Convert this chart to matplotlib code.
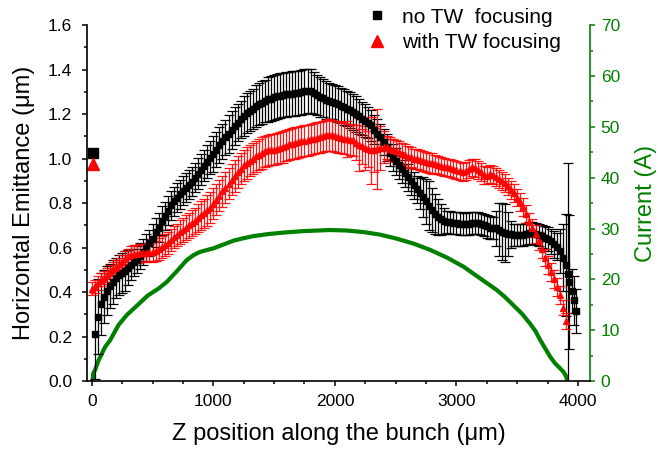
import numpy as np
import matplotlib
matplotlib.use("Agg")
import matplotlib.pyplot as plt
from matplotlib.lines import Line2D
from matplotlib.ticker import MultipleLocator, FormatStrFormatter

plt.rcParams['font.family'] = ['Liberation Sans', 'DejaVu Sans']

# ---- data ----
# no TW focusing (black squares): z position (um), emittance (um), error (um)
z_black = list(range(25, 3900, 25)) + [3898, 3915, 3929, 3948, 3964, 3981]
emit_black = [
    0.21, 0.29, 0.345, 0.38, 0.405, 0.428, 0.445, 0.463,
    0.475, 0.485, 0.495, 0.51, 0.523, 0.533, 0.545, 0.562,
    0.58, 0.60, 0.62, 0.64, 0.668, 0.69, 0.72, 0.742,
    0.765, 0.79, 0.808, 0.825, 0.84, 0.855, 0.87, 0.882,
    0.896, 0.914, 0.932, 0.95, 0.968, 0.986, 1.004, 1.02,
    1.04, 1.06, 1.077, 1.095, 1.11, 1.13, 1.148, 1.162,
    1.176, 1.19, 1.203, 1.215, 1.225, 1.235, 1.244, 1.252,
    1.26, 1.266, 1.27, 1.275, 1.28, 1.283, 1.286, 1.289,
    1.29, 1.292, 1.293, 1.296, 1.298, 1.302, 1.305, 1.305,
    1.295, 1.285, 1.278, 1.272, 1.265, 1.26, 1.256, 1.25,
    1.245, 1.238, 1.232, 1.225, 1.218, 1.21, 1.20, 1.19,
    1.18, 1.17, 1.162, 1.15, 1.13, 1.112, 1.095, 1.075,
    1.05, 1.026, 1.005, 0.988, 0.97, 0.952, 0.934, 0.916,
    0.898, 0.88, 0.862, 0.844, 0.826, 0.808, 0.788, 0.77,
    0.752, 0.738, 0.728, 0.72, 0.716, 0.713, 0.712, 0.71,
    0.708, 0.706, 0.707, 0.708, 0.71, 0.712, 0.71, 0.705,
    0.70, 0.695, 0.69, 0.688, 0.686, 0.68, 0.672, 0.666,
    0.662, 0.66, 0.658, 0.656, 0.655, 0.656, 0.66, 0.664,
    0.665, 0.662, 0.656, 0.65, 0.645, 0.638, 0.628, 0.615,
    0.604, 0.585, 0.555,
    0.521, 0.479, 0.446, 0.404, 0.364, 0.315,
]
err_black = [
    0.20, 0.17, 0.14, 0.12, 0.11, 0.10, 0.10, 0.09,
    0.09, 0.09, 0.09, 0.08, 0.07, 0.06, 0.06, 0.06,
    0.06, 0.06, 0.06, 0.065, 0.065, 0.065, 0.065, 0.065,
    0.065, 0.065, 0.065, 0.065, 0.065, 0.065, 0.065, 0.065,
    0.065, 0.065, 0.07, 0.07, 0.07, 0.075, 0.075, 0.08,
    0.08, 0.08, 0.08, 0.08, 0.085, 0.085, 0.085, 0.085,
    0.085, 0.09, 0.09, 0.09, 0.09, 0.095, 0.095, 0.095,
    0.095, 0.10, 0.10, 0.10, 0.10, 0.10, 0.10, 0.10,
    0.10, 0.10, 0.10, 0.10, 0.10, 0.10, 0.10, 0.10,
    0.095, 0.09, 0.09, 0.085, 0.085, 0.08, 0.08, 0.08,
    0.08, 0.08, 0.08, 0.08, 0.08, 0.08, 0.08, 0.08,
    0.075, 0.075, 0.07, 0.07, 0.065, 0.065, 0.06, 0.06,
    0.06, 0.06, 0.06, 0.06, 0.06, 0.06, 0.06, 0.06,
    0.06, 0.06, 0.06, 0.07, 0.09, 0.10, 0.11, 0.10,
    0.09, 0.08, 0.07, 0.06, 0.05, 0.05, 0.05, 0.05,
    0.05, 0.05, 0.05, 0.05, 0.05, 0.05, 0.05, 0.05,
    0.05, 0.05, 0.05, 0.05, 0.08, 0.12, 0.13, 0.13,
    0.10, 0.06, 0.05, 0.05, 0.05, 0.05, 0.05, 0.05,
    0.05, 0.05, 0.05, 0.05, 0.05, 0.055, 0.055, 0.06,
    0.06, 0.10, 0.15,
    0.23, 0.50, 0.30, 0.10, 0.11, 0.10,
]

# with TW focusing (red triangles)
z_red = [5] + list(range(25, 3925, 25))
emit_red = [
    0.415,
    0.425, 0.44, 0.455, 0.465, 0.476, 0.49, 0.503, 0.514,
    0.524, 0.535, 0.548, 0.56, 0.566, 0.57, 0.572, 0.574,
    0.575, 0.577, 0.578, 0.58, 0.585, 0.593, 0.602, 0.612,
    0.622, 0.634, 0.646, 0.658, 0.67, 0.68, 0.69, 0.70,
    0.71, 0.72, 0.733, 0.745, 0.755, 0.767, 0.78, 0.798,
    0.815, 0.833, 0.853, 0.87, 0.888, 0.905, 0.922, 0.94,
    0.955, 0.97, 0.98, 0.99, 1.0, 1.01, 1.018, 1.025,
    1.032, 1.038, 1.04, 1.04, 1.044, 1.048, 1.052, 1.058,
    1.064, 1.066, 1.07, 1.074, 1.077, 1.08, 1.083, 1.086,
    1.09, 1.093, 1.096, 1.10, 1.104, 1.106, 1.104, 1.10,
    1.097, 1.094, 1.09, 1.088, 1.085, 1.082, 1.072, 1.062,
    1.055, 1.048, 1.042, 1.038, 1.038, 1.042, 1.048, 1.052,
    1.05, 1.045, 1.04, 1.035, 1.03, 1.022, 1.014, 1.008,
    1.005, 1.0, 0.996, 0.993, 0.99, 0.986, 0.982, 0.978,
    0.976, 0.972, 0.968, 0.964, 0.96, 0.956, 0.952, 0.948,
    0.944, 0.94, 0.945, 0.955, 0.96, 0.958, 0.95, 0.938,
    0.928, 0.924, 0.93, 0.928, 0.918, 0.91, 0.90, 0.89,
    0.875, 0.86, 0.845, 0.825, 0.805, 0.783, 0.75, 0.715,
    0.688, 0.66, 0.628, 0.594, 0.555, 0.52, 0.49, 0.458,
    0.424, 0.385, 0.33, 0.27,
]
err_red = [
    0.03,
    0.03, 0.03, 0.03, 0.03, 0.03, 0.03, 0.03, 0.03,
    0.03, 0.03, 0.035, 0.035, 0.04, 0.04, 0.04, 0.04,
    0.04, 0.04, 0.04, 0.045, 0.045, 0.05, 0.05, 0.05,
    0.05, 0.05, 0.05, 0.05, 0.055, 0.055, 0.055, 0.055,
    0.06, 0.06, 0.065, 0.065, 0.065, 0.07, 0.07, 0.07,
    0.07, 0.07, 0.07, 0.07, 0.07, 0.07, 0.07, 0.07,
    0.07, 0.07, 0.07, 0.07, 0.07, 0.07, 0.07, 0.07,
    0.07, 0.07, 0.07, 0.07, 0.07, 0.07, 0.07, 0.07,
    0.07, 0.07, 0.07, 0.07, 0.07, 0.07, 0.07, 0.07,
    0.07, 0.07, 0.07, 0.07, 0.07, 0.07, 0.07, 0.07,
    0.07, 0.07, 0.07, 0.08, 0.07, 0.07, 0.08, 0.12,
    0.08, 0.10, 0.08, 0.15, 0.10, 0.18, 0.10, 0.07,
    0.05, 0.05, 0.05, 0.05, 0.05, 0.05, 0.05, 0.05,
    0.045, 0.045, 0.045, 0.045, 0.045, 0.045, 0.045, 0.045,
    0.04, 0.04, 0.04, 0.04, 0.04, 0.04, 0.04, 0.04,
    0.04, 0.04, 0.04, 0.04, 0.04, 0.04, 0.04, 0.04,
    0.04, 0.04, 0.04, 0.04, 0.04, 0.04, 0.04, 0.04,
    0.04, 0.04, 0.04, 0.04, 0.04, 0.04, 0.04, 0.04,
    0.04, 0.04, 0.04, 0.04, 0.04, 0.04, 0.04, 0.04,
    0.04, 0.04, 0.035, 0.035,
]

# single points at z = 0 (whole-bunch values)
z_single = [10]
emit_single_black = [1.025]
emit_single_red = [0.975]

# current profile (green, right axis)
z_cur = [8, 12, 28, 55, 110, 151, 220, 289, 380, 460, 550, 618, 700, 782,
         840, 891, 1001, 1100, 1165, 1250, 1330, 1450, 1577, 1750, 1960,
         2100, 2234, 2370, 2509, 2650, 2783, 2920, 3057, 3194, 3331, 3400,
         3468, 3540, 3605, 3650, 3688, 3730, 3770, 3810, 3852, 3880, 3900, 3912]
current = [0.0, 1.5, 2.2, 4.0, 6.7, 8.0, 11.0, 13.0, 15.0, 16.8, 18.2, 19.5,
           21.6, 23.8, 24.8, 25.4, 26.1, 27.0, 27.6, 28.1, 28.5, 28.9, 29.2,
           29.5, 29.7, 29.6, 29.3, 28.8, 28.0, 27.0, 25.8, 24.3, 22.5, 20.2,
           17.9, 16.5, 14.9, 13.2, 11.3, 9.8, 8.1, 6.4, 4.8, 3.5, 2.5, 1.8,
           1.0, 0.0]

green = '#008000'

fig = plt.figure(figsize=(6.58, 4.49), dpi=100)
ax = fig.add_subplot(111)
fig.subplots_adjust(left=0.132, right=0.897, bottom=0.1514, top=0.944)
ax2 = ax.twinx()

# green current line underneath the emittance data
ax2.plot(z_cur, current, color=green, lw=3.0, solid_capstyle='butt')
ax.set_zorder(ax2.get_zorder() + 1)
ax.patch.set_visible(False)

ax.errorbar(z_black, emit_black, yerr=err_black, fmt='s', color='black',
            ms=4.0, elinewidth=0.9, capsize=3.5, capthick=0.9)
ax.errorbar(z_red, emit_red, yerr=err_red, fmt='^', color='red',
            ms=4.4, elinewidth=0.9, capsize=3.5, capthick=0.9, alpha=0.9)
ax.plot(z_single, emit_single_black, 's', color='black', ms=7, clip_on=False)
ax.plot(z_single, emit_single_red, '^', color='red', ms=8, clip_on=False)

# axes ranges and ticks
ax.set_xlim(-40, 4100)
ax.set_ylim(0, 1.6)
ax2.set_ylim(0, 70)
ax.xaxis.set_major_locator(MultipleLocator(1000))
ax.xaxis.set_minor_locator(MultipleLocator(250))
ax.yaxis.set_major_locator(MultipleLocator(0.2))
ax.yaxis.set_minor_locator(MultipleLocator(0.1))
ax.yaxis.set_major_formatter(FormatStrFormatter('%.1f'))
ax2.yaxis.set_major_locator(MultipleLocator(10))
ax2.yaxis.set_minor_locator(MultipleLocator(5))

ax.tick_params(which='major', direction='out', length=3.6, width=1.1,
               labelsize=12.5)
ax.tick_params(axis='y', which='major', pad=7)
ax.tick_params(axis='x', which='major', pad=6)
ax.tick_params(which='minor', direction='out', length=2.2, width=1.1)
ax2.tick_params(which='major', direction='out', length=3.6, width=1.1,
                labelsize=12.5, pad=4, color=green, labelcolor=green)
ax2.tick_params(which='minor', direction='out', length=2.2, width=1.1,
                color=green)

for s in ['top', 'right']:
    ax.spines[s].set_visible(False)
for s in ['top', 'left', 'bottom']:
    ax2.spines[s].set_visible(False)
ax2.spines['right'].set_color(green)
ax2.spines['right'].set_linewidth(1.2)
ax.spines['left'].set_linewidth(1.2)
ax.spines['bottom'].set_linewidth(1.2)

ax.set_xlabel('Z position along the bunch (\u03bcm)', fontsize=17, labelpad=10)
ax.set_ylabel('Horizontal Emittance (\u03bcm)', fontsize=17, labelpad=9)
ax2.set_ylabel('Current (A)', fontsize=17, color=green, labelpad=11)

# legend with markers only
handles = [Line2D([], [], ls='none', marker='s', color='black', ms=6),
           Line2D([], [], ls='none', marker='^', color='red', ms=8)]
fig.legend(handles, ['no TW  focusing', 'with TW focusing'],
           loc='upper left', bbox_to_anchor=(0.538, 1.006), frameon=False,
           fontsize=15, handlelength=1.2, handletextpad=0.6,
           borderpad=0, labelspacing=0.3)

fig.savefig('out.png', dpi=100)
